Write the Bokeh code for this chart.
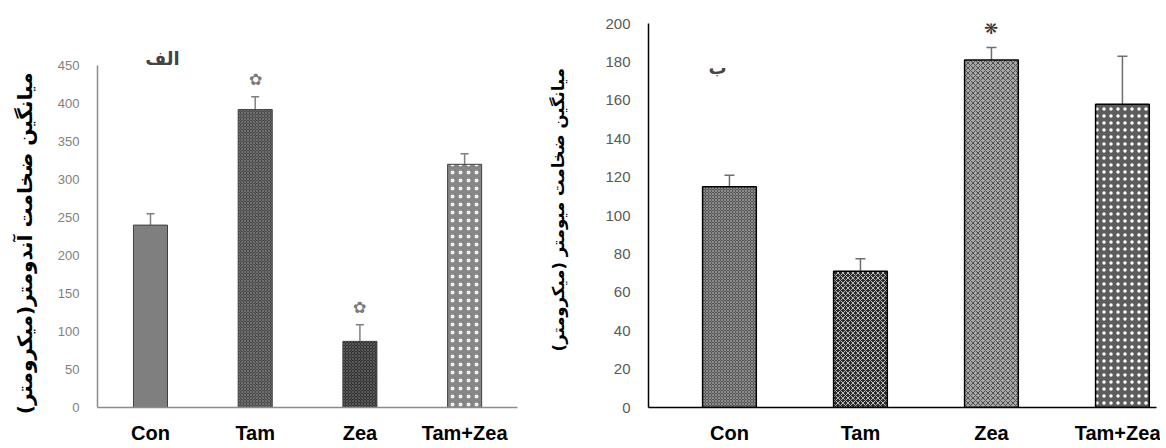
from bokeh.plotting import figure
from bokeh.layouts import row
from bokeh.models import (ColumnDataSource, Whisker, Label, LabelSet, FixedTicker,
                          TeeHead, Range1d)
from bokeh.embed import file_html
from bokeh.resources import INLINE

categories = ["Con", "Tam", "Zea", "Tam+Zea"]
endo_mean = [240, 392, 87, 320]
endo_err = [15, 17, 22, 14]
endo_sig = ["", "✿", "✿", ""]
myo_mean = [115, 71, 181, 158]
myo_err = [6, 6.5, 6.5, 25]
myo_sig = ["", "", "❋", ""]
endo_ticks = list(range(0, 451, 50))
myo_ticks = list(range(0, 201, 20))

endo_title = "الف"
myo_title = "ب"
endo_ylabel = "میانگین ضخامت آندومتر(میکرومتر)"
myo_ylabel = "میانگین ضخامت میومتر (میکرومتر)"

FA = "DejaVu Sans"
LAT = "Liberation Sans"
NB = "\u00a0"
xs = list(range(len(categories)))
H = 446


def make_panel(width, xr, yr, ymax, ticks, mean, err, sig, styles, borders,
               axis_color, tick_font, tick_size, tick_color, label_size,
               label_standoff, ylabel, ylabel_size, ylabel_standoff, bar_width, bar_line,
               err_color, tee, title, title_xy, sig_offset, sig_color, sig_size):
    p = figure(width=width, height=H, x_range=Range1d(*xr), y_range=Range1d(*yr),
               output_backend="svg", toolbar_location=None,
               min_border_left=borders[0], min_border_right=borders[1],
               min_border_top=borders[2], min_border_bottom=borders[3])
    p.outline_line_color = None
    p.grid.visible = False
    p.background_fill_color = "white"
    p.border_fill_color = "white"

    src = ColumnDataSource(dict(x=xs, top=mean, lower=mean,
                                upper=[m + e for m, e in zip(mean, err)],
                                sig=sig, fill=styles["fill"], hp=styles["hp"],
                                hc=styles["hc"], hs=styles["hs"]))
    p.vbar(x="x", top="top", bottom=0, width=bar_width, source=src, fill_color="fill",
           line_color=bar_line[0], line_width=bar_line[1], hatch_pattern="hp",
           hatch_color="hc", hatch_scale="hs", hatch_weight=1)
    p.add_layout(Whisker(base="x", lower="lower", upper="upper", source=src,
                         line_color=err_color, line_width=1.5, lower_head=None,
                         upper_head=TeeHead(size=tee, line_color=err_color, line_width=1.5)))
    p.add_layout(LabelSet(x="x", y="upper", text="sig", source=src, y_offset=sig_offset,
                          text_align="center", text_baseline="middle",
                          text_font=FA, text_font_size=sig_size, text_color=sig_color))

    xa = p.xaxis[0]
    xa.ticker = FixedTicker(ticks=xs)
    xa.major_label_overrides = {i: c for i, c in enumerate(categories)}
    xa.major_label_text_font = LAT
    xa.major_label_text_font_style = "bold"
    xa.major_label_text_font_size = label_size
    xa.major_label_text_color = "black"
    xa.major_label_standoff = label_standoff
    xa.major_tick_line_color = None
    xa.minor_tick_line_color = None
    xa.axis_line_color = axis_color
    xa.axis_line_width = 1.5

    ya = p.yaxis[0]
    ya.bounds = (0, ymax)
    ya.ticker = FixedTicker(ticks=ticks)
    ya.major_label_text_font = tick_font
    ya.major_label_text_font_size = tick_size
    ya.major_label_text_color = tick_color
    ya.major_label_standoff = 12
    ya.major_tick_line_color = None
    ya.minor_tick_line_color = None
    ya.axis_line_color = axis_color
    ya.axis_line_width = 1.5
    ya.axis_label = ylabel
    ya.axis_label_text_font = FA
    ya.axis_label_text_font_style = "bold"
    ya.axis_label_text_font_size = ylabel_size
    ya.axis_label_text_color = "black"
    ya.axis_label_standoff = ylabel_standoff

    p.add_layout(Label(x=title_xy[0], y=title_xy[1], text=title, text_font=FA,
                       text_font_style="bold", text_font_size="18px",
                       text_align="center", text_baseline="middle"))
    return p


left_styles = dict(fill=["#7f7f7f", "#474747", "#303030", "#858585"],
                   hp=[" ", "x", "x", "."],
                   hc=["#7f7f7f", "#707070", "#5a5a5a", "#f2f2f2"],
                   hs=[4, 3, 3, 8])
right_styles = dict(fill=["#555555", "#2b2b2b", "#a6a6a6", "#5c5c5c"],
                    hp=["x", "x", "x", "."],
                    hc=["#8c8c8c", "#bdbdbd", "#4f4f4f", "#ffffff"],
                    hs=[3, 5, 5, 7])

left = make_panel(540, (-0.506, 3.505), (0, 505.26), 450, endo_ticks, endo_mean,
                  endo_err, endo_sig, left_styles, (97, 23, 23, 39), "#8c8c8c",
                  "'Liberation Sans Narrow', 'Liberation Sans'", "13px", "#808080",
                  "20px", 8, endo_ylabel + NB * 8, "20px", 18, 0.325, ("#404040", 1),
                  "#808080", 8, endo_title, (0.115, 459), 17, "#7a7a7a", "16px")
right = make_panel(620, (-0.618, 3.26), (0, 200), 200, myo_ticks, myo_mean, myo_err,
                   myo_sig, right_styles, (108, 4, 23, 39), "black",
                   LAT, "15px", "#595959",
                   "20px", 8, NB * 2 + myo_ylabel, "16.5px", 34, 0.41, ("black", 1.5),
                   "#6e6e6e", 10, myo_title, (-0.09, 177), 19, "#333333", "17px")

layout = row(left, right)
open("out.html", "w").write(file_html(layout, INLINE))
